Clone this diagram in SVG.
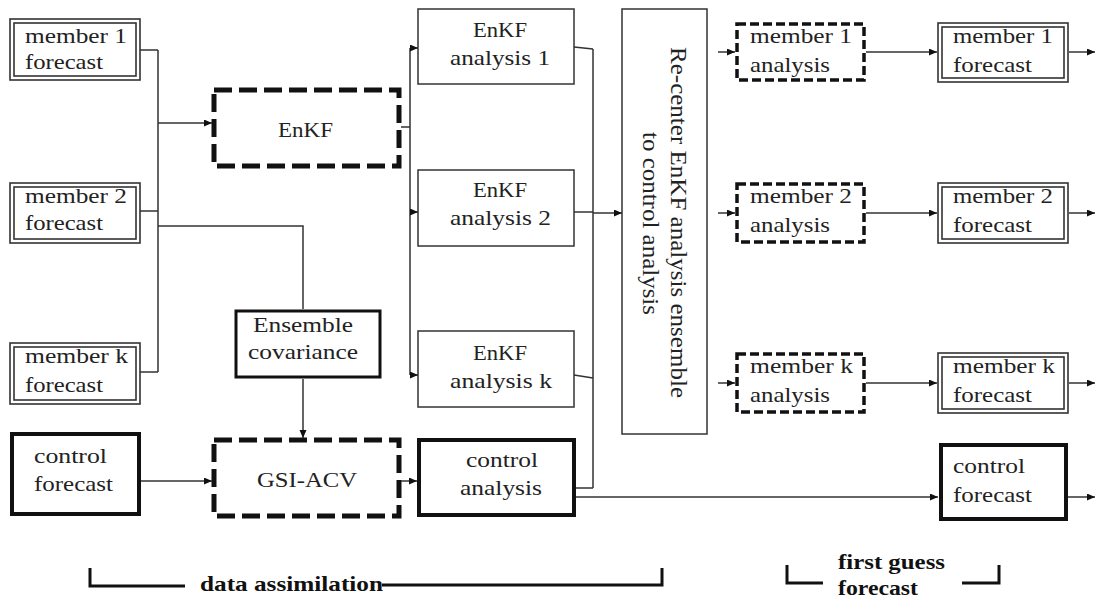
<svg xmlns="http://www.w3.org/2000/svg" width="1098" height="601" viewBox="0 0 1098 601">
<style>
text{font-family:"Liberation Serif","Times New Roman",Tinos,Times,serif;font-size:21px;fill:#222;}
.b{font-weight:bold;fill:#111;}
.thin{fill:#fff;stroke:#333;stroke-width:1.5;}
.dbl{fill:none;stroke:#333;stroke-width:1.6;}
.thick{fill:#fff;stroke:#111;stroke-width:4;}
.med{fill:#fff;stroke:#111;stroke-width:3;}
.dash{fill:#fff;stroke:#111;stroke-width:5;stroke-dasharray:18 7;}
.sdash{fill:#fff;stroke:#111;stroke-width:3.5;stroke-dasharray:9 4;}
.c path{fill:none;stroke:#333;stroke-width:1.5;}
.c path.a{marker-end:url(#ah);}
.br{fill:none;stroke:#111;stroke-width:3;}
</style>
<defs>
<marker id="ah" markerUnits="userSpaceOnUse" markerWidth="9" markerHeight="8" refX="8" refY="3.5" orient="auto">
<path d="M0,0 L8,3.5 L0,7 z" fill="#111"/>
</marker>
</defs>
<rect width="1098" height="601" fill="#fff"/>

<g id="m1f">
<rect class="dbl" x="10" y="19" width="130" height="61"/>
<rect class="dbl" x="14" y="23" width="122" height="53"/>
<text x="25" y="43" textLength="102" lengthAdjust="spacingAndGlyphs">member 1</text>
<text x="25" y="69" textLength="78" lengthAdjust="spacingAndGlyphs">forecast</text>
</g>
<g id="m2f">
<rect class="dbl" x="10" y="183" width="130" height="60"/>
<rect class="dbl" x="14" y="187" width="122" height="52"/>
<text x="25" y="203" textLength="102" lengthAdjust="spacingAndGlyphs">member 2</text>
<text x="25" y="230" textLength="78" lengthAdjust="spacingAndGlyphs">forecast</text>
</g>
<g id="mkf">
<rect class="dbl" x="10" y="343" width="130" height="61"/>
<rect class="dbl" x="14" y="347" width="122" height="53"/>
<text x="25" y="363" textLength="103" lengthAdjust="spacingAndGlyphs">member k</text>
<text x="25" y="392" textLength="78" lengthAdjust="spacingAndGlyphs">forecast</text>
</g>
<g id="cf">
<rect class="thick" x="12" y="434" width="127" height="80"/>
<text x="34" y="463" textLength="73" lengthAdjust="spacingAndGlyphs">control</text>
<text x="34" y="491" textLength="79" lengthAdjust="spacingAndGlyphs">forecast</text>
</g>
<g id="enkf">
<rect class="dash" x="214" y="90" width="185" height="76"/>
<text x="278" y="137" textLength="55" lengthAdjust="spacingAndGlyphs">EnKF</text>
</g>
<g id="ecov">
<rect class="med" x="236" y="311" width="144" height="66"/>
<text x="253" y="332" textLength="100" lengthAdjust="spacingAndGlyphs">Ensemble</text>
<text x="248" y="359" textLength="110" lengthAdjust="spacingAndGlyphs">covariance</text>
</g>
<g id="gsi">
<rect class="dash" x="214" y="440" width="185" height="76"/>
<text x="257" y="487" textLength="100" lengthAdjust="spacingAndGlyphs">GSI-ACV</text>
</g>
<g id="ea1">
<rect class="thin" x="418" y="9" width="156" height="75"/>
<text x="473" y="37" textLength="54" lengthAdjust="spacingAndGlyphs">EnKF</text>
<text x="450" y="65" textLength="100" lengthAdjust="spacingAndGlyphs">analysis 1</text>
</g>
<g id="ea2">
<rect class="thin" x="418" y="170" width="156" height="76"/>
<text x="473" y="197" textLength="54" lengthAdjust="spacingAndGlyphs">EnKF</text>
<text x="450" y="225" textLength="101" lengthAdjust="spacingAndGlyphs">analysis 2</text>
</g>
<g id="eak">
<rect class="thin" x="418" y="331" width="156" height="76"/>
<text x="473" y="360" textLength="54" lengthAdjust="spacingAndGlyphs">EnKF</text>
<text x="450" y="388" textLength="102" lengthAdjust="spacingAndGlyphs">analysis k</text>
</g>
<g id="ca">
<rect class="thick" x="419" y="440" width="155" height="75"/>
<text x="466" y="467" textLength="72" lengthAdjust="spacingAndGlyphs">control</text>
<text x="460" y="495" textLength="82" lengthAdjust="spacingAndGlyphs">analysis</text>
</g>
<g id="recenter">
<rect class="thin" x="622" y="9" width="85" height="425"/>
<text transform="translate(671,47) rotate(90)" x="0" y="0" style="font-size:23px" textLength="351" lengthAdjust="spacingAndGlyphs">Re-center EnKF analysis ensemble</text>
<text transform="translate(643,132) rotate(90)" x="0" y="0" style="font-size:23px" textLength="183" lengthAdjust="spacingAndGlyphs">to control analysis</text>
</g>
<g id="m1a">
<rect class="sdash" x="737" y="24" width="127" height="56"/>
<text x="750" y="43" textLength="102" lengthAdjust="spacingAndGlyphs">member 1</text>
<text x="750" y="72" textLength="80" lengthAdjust="spacingAndGlyphs">analysis</text>
</g>
<g id="m2a">
<rect class="sdash" x="737" y="184" width="127" height="58"/>
<text x="750" y="203" textLength="102" lengthAdjust="spacingAndGlyphs">member 2</text>
<text x="750" y="232" textLength="80" lengthAdjust="spacingAndGlyphs">analysis</text>
</g>
<g id="mka">
<rect class="sdash" x="737" y="354" width="127" height="58"/>
<text x="750" y="373" textLength="103" lengthAdjust="spacingAndGlyphs">member k</text>
<text x="750" y="402" textLength="80" lengthAdjust="spacingAndGlyphs">analysis</text>
</g>
<g id="m1f2">
<rect class="dbl" x="938" y="23" width="130" height="59"/>
<rect class="dbl" x="942" y="27" width="122" height="51"/>
<text x="953" y="43" textLength="100" lengthAdjust="spacingAndGlyphs">member 1</text>
<text x="953" y="72" textLength="79" lengthAdjust="spacingAndGlyphs">forecast</text>
</g>
<g id="m2f2">
<rect class="dbl" x="938" y="183" width="130" height="60"/>
<rect class="dbl" x="942" y="187" width="122" height="52"/>
<text x="953" y="203" textLength="100" lengthAdjust="spacingAndGlyphs">member 2</text>
<text x="953" y="232" textLength="79" lengthAdjust="spacingAndGlyphs">forecast</text>
</g>
<g id="mkf2">
<rect class="dbl" x="938" y="353" width="130" height="60"/>
<rect class="dbl" x="942" y="357" width="122" height="52"/>
<text x="953" y="373" textLength="102" lengthAdjust="spacingAndGlyphs">member k</text>
<text x="953" y="402" textLength="79" lengthAdjust="spacingAndGlyphs">forecast</text>
</g>
<g id="cf2">
<rect class="thick" x="941" y="445" width="125" height="74"/>
<text x="953" y="473" textLength="72" lengthAdjust="spacingAndGlyphs">control</text>
<text x="953" y="502" textLength="79" lengthAdjust="spacingAndGlyphs">forecast</text>
</g>

<g id="connectors" class="c">
<path d="M140,50 H158 M140,211 H158 M140,372 H158 M158,50 V372"/>
<path class="a" d="M158,123 H212"/>
<path d="M158,226 H303 V309"/>
<path class="a" d="M303,379 V438"/>
<path class="a" d="M141,481 H212"/>
<path class="a" d="M401,481 H417"/>
<path d="M401,127 H410 M410,48 V375"/>
<path class="a" d="M410,48 H418"/>
<path class="a" d="M410,212 H418"/>
<path class="a" d="M410,375 H418"/>
<path d="M574,47 L593,49 M574,375 L593,378 M576,488 H593 M593,49 V488 M574,212 H593"/>
<path class="a" d="M593,213 H622"/>
<path class="a" d="M718,52 H735"/>
<path class="a" d="M718,213 H735"/>
<path class="a" d="M718,383 H735"/>
<path class="a" d="M866,52 H937"/>
<path class="a" d="M866,213 H937"/>
<path class="a" d="M866,383 H937"/>
<path class="a" d="M1069,52 H1095"/>
<path class="a" d="M1069,213 H1095"/>
<path class="a" d="M1069,383 H1095"/>
<path class="a" d="M1068,497 H1095"/>
<path class="a" d="M576,497 H938"/>
</g>

<g id="labels">
<path class="br" d="M90,568 V586 H185"/>
<text class="b" x="200" y="591" textLength="183" lengthAdjust="spacingAndGlyphs">data assimilation</text>
<path class="br" d="M382,585 H662 V568"/>
<path class="br" d="M787,565 V583 H823"/>
<path class="br" d="M962,583 H999 V565"/>
<text class="b" x="838" y="569" textLength="107" lengthAdjust="spacingAndGlyphs">first guess</text>
<text class="b" x="838" y="595" textLength="80" lengthAdjust="spacingAndGlyphs">forecast</text>
</g>
</svg>
